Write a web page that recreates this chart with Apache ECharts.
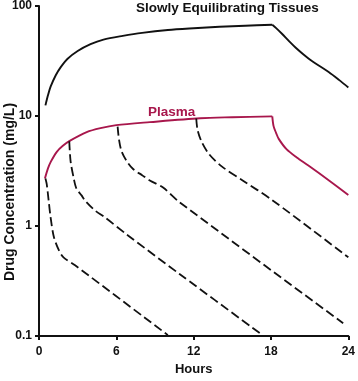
<!DOCTYPE html>
<html>
<head>
<meta charset="utf-8">
<script src="https://cdn.jsdelivr.net/npm/echarts@6/dist/echarts.min.js"></script>
<style>
html,body{margin:0;padding:0;background:#fff;}
#c{width:358px;height:381px;}
</style>
</head>
<body>
<div id="c"></div>
<script>
// ---- data (hours, mg/L) ----
const xTicks = [0, 6, 12, 18, 24];
const yTickLabels = ['0.1', '1', '10', '100'];

const tissueRise = [[0.5,12.5],[0.7,15.5],[0.9,18.5],[1.3,23.5],[1.7,28],[2.2,33],[3,39],[4,45],[5,49.5],[6.5,53.5],[8,57],[10,60.5],[12,62.8],[14,64.8],[16,66.2],[18.1,67.5]];
const tissueFall = [[18.1,67.5],[18.4,63],[18.85,56],[19.4,48],[19.9,42],[20.5,36.5],[21.2,31.5],[22.5,25],[23.3,21.2],[24,18.2]];

const plasmaRise = [[0.46,2.71],[0.69,3.33],[0.92,3.85],[1.38,4.73],[1.85,5.36],[2.38,5.94],[3.7,7.14],[4.77,7.76],[6.0,8.26],[8.6,8.8],[12.5,9.55],[15,9.75],[18.1,9.93]];
const plasmaFall = [[18.1,9.93],[18.2,8.1],[18.4,7.0],[18.6,6.2],[19.2,5.0],[20,4.2],[20.9,3.55],[22.5,2.6],[24,1.92]];

const wash1 = [[0.5,2.7],[0.6,2.4],[0.75,1.7],[0.9,1.2],[1.15,0.8],[1.55,0.6],[1.9,0.52],[2.8,0.44],[10,0.102]];
const wash2 = [[2.35,5.9],[2.45,3.9],[2.7,2.7],[2.9,2.2],[3.3,1.9],[3.6,1.69],[4.3,1.4],[5.15,1.19],[6.8,0.84],[10.9,0.367],[17.2,0.105]];
const wash3 = [[6.1,8.0],[6.2,6.2],[6.4,4.8],[6.8,3.9],[7.3,3.3],[8.0,2.9],[8.6,2.6],[9.6,2.25],[10.9,1.65],[23.6,0.131]];
const wash4 = [[12.2,9.5],[12.3,7.5],[12.6,5.9],[13.2,4.5],[14.2,3.47],[15.8,2.6],[18.1,1.72],[24,0.52]];

const FONT = '"Liberation Sans", Arial, Helvetica, sans-serif';
const INK = '#111';
const CRIMSON = '#a8174c';

function solid(data, color) {
  return { type: 'line', data: data, smooth: 0.3, symbol: 'none', silent: true,
    lineStyle: { color: color, width: 1.9 } };
}
function dashed(data) {
  return { type: 'line', data: data, smooth: 0.3, symbol: 'none', silent: true,
    lineStyle: { color: INK, width: 1.8, type: [9, 4] } };
}

const chart = echarts.init(document.getElementById('c'), null, { renderer: 'canvas' });
chart.setOption({
  animation: false,
  backgroundColor: '#fff',
  grid: { left: 39, right: 8, top: 5, bottom: 41, containLabel: false },
  xAxis: {
    type: 'value', min: xTicks[0], max: xTicks[xTicks.length - 1], interval: 6,
    name: 'Hours', nameLocation: 'middle', nameGap: 25,
    nameTextStyle: { fontFamily: FONT, fontWeight: 'bold', fontSize: 13, color: INK },
    axisLine: { lineStyle: { color: INK, width: 2 } },
    axisTick: { show: true, length: 4, lineStyle: { color: INK, width: 2 } },
    axisLabel: { fontFamily: FONT, fontWeight: 'bold', fontSize: 12, color: INK, margin: 10 },
    splitLine: { show: false }
  },
  yAxis: {
    type: 'log', logBase: 10, min: 0.1, max: 100,
    axisLine: { show: true, lineStyle: { color: INK, width: 2 } },
    axisTick: { show: true, length: 4, lineStyle: { color: INK, width: 2 } },
    axisLabel: { fontFamily: FONT, fontWeight: 'bold', fontSize: 12, color: INK, margin: 7,
      formatter: function (v) { const i = Math.round(Math.log10(v)) + 1; return yTickLabels[i] || ''; } },
    splitLine: { show: false },
    minorTick: { show: false }
  },
  graphic: [
    { type: 'text', left: 136, top: 1,
      style: { text: 'Slowly Equilibrating Tissues', fill: INK, font: 'bold 13.5px ' + FONT } },
    { type: 'text', left: 148, top: 105,
      style: { text: 'Plasma', fill: CRIMSON, font: 'bold 13.5px ' + FONT } },
    { type: 'text', x: 10, y: 192, rotation: Math.PI / 2,
      style: { text: 'Drug Concentration (mg/L)', fill: INK, font: 'bold 14px ' + FONT,
        align: 'center', verticalAlign: 'middle' } }
  ],
  series: [
    solid(tissueRise, INK), solid(tissueFall, INK),
    solid(plasmaRise, CRIMSON), solid(plasmaFall, CRIMSON),
    dashed(wash1), dashed(wash2), dashed(wash3), dashed(wash4)
  ]
});
</script>
</body>
</html>
